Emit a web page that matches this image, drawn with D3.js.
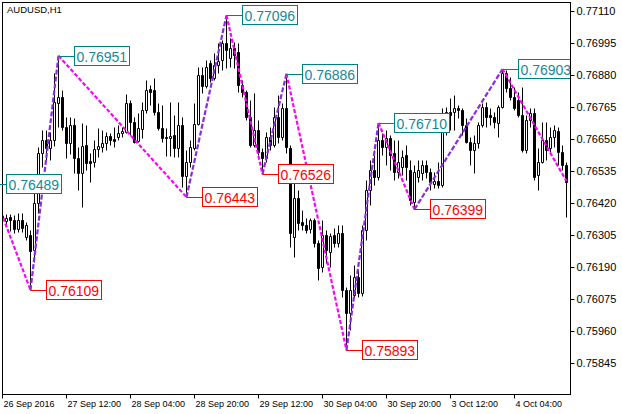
<!DOCTYPE html>
<html>
<head>
<meta charset="utf-8">
<script src="https://cdn.jsdelivr.net/npm/d3@7"></script>
<style>
  body { margin: 0; background: #fff; }
  svg { display: block; font-family: "Liberation Sans", Arial, sans-serif; }
</style>
</head>
<body>
<script>
const chartTitle = "AUDUSD,H1";

// H1 bars, 26 Sep 2016 20:00 .. 4 Oct 2016 17:00
const opens = [
  0.76375, 0.76357, 0.76371, 0.76360, 0.76328, 0.76360, 0.76299, 0.76306, 0.76253, 0.76421,
  0.76601, 0.76648, 0.76619, 0.76648, 0.76781, 0.76802, 0.76695, 0.76637, 0.76702, 0.76583,
  0.76529, 0.76630, 0.76572, 0.76569, 0.76616, 0.76623, 0.76637, 0.76662, 0.76651, 0.76659,
  0.76673, 0.76677, 0.76781, 0.76713, 0.76644, 0.76687, 0.76756, 0.76831, 0.76828, 0.76748,
  0.76691, 0.76659, 0.76655, 0.76666, 0.76619, 0.76702, 0.76518, 0.76569, 0.76619, 0.76705,
  0.76881, 0.76842, 0.76925, 0.76871, 0.76917, 0.76935, 0.76996, 0.76943, 0.76978, 0.76964,
  0.76846, 0.76820, 0.76731, 0.76630, 0.76684, 0.76605, 0.76583, 0.76659, 0.76630, 0.76731,
  0.76659, 0.76763, 0.76619, 0.76299, 0.76439, 0.76353, 0.76342, 0.76328, 0.76360, 0.76278,
  0.76191, 0.76306, 0.76246, 0.76306, 0.76278, 0.76314, 0.76109, 0.76026, 0.76091, 0.76155,
  0.76098, 0.76324, 0.76468, 0.76540, 0.76515, 0.76648, 0.76623, 0.76655, 0.76601, 0.76533,
  0.76551, 0.76594, 0.76540, 0.76425, 0.76515, 0.76529, 0.76558, 0.76533, 0.76490, 0.76500,
  0.76486, 0.76684, 0.76748, 0.76748, 0.76763, 0.76756, 0.76702, 0.76641, 0.76612, 0.76637,
  0.76702, 0.76766, 0.76738, 0.76731, 0.76709, 0.76766, 0.76889, 0.76835, 0.76802, 0.76792,
  0.76738, 0.76612, 0.76720, 0.76745, 0.76522, 0.76569, 0.76648, 0.76619, 0.76659, 0.76680,
  0.76605, 0.76558
];
const highs = [
  0.76386, 0.76382, 0.76382, 0.76378, 0.76386, 0.76386, 0.76353, 0.76324, 0.76457, 0.76623,
  0.76684, 0.76684, 0.76677, 0.76889, 0.76951, 0.76828, 0.76731, 0.76731, 0.76727, 0.76623,
  0.76709, 0.76702, 0.76601, 0.76648, 0.76691, 0.76684, 0.76677, 0.76673, 0.76695, 0.76702,
  0.76695, 0.76813, 0.76792, 0.76731, 0.76745, 0.76784, 0.76863, 0.76846, 0.76871, 0.76781,
  0.76774, 0.76691, 0.76784, 0.76738, 0.76784, 0.76731, 0.76612, 0.76648, 0.76781, 0.76910,
  0.76910, 0.76935, 0.76935, 0.76961, 0.76996, 0.77007, 0.77096, 0.77014, 0.77000, 0.76996,
  0.76863, 0.76828, 0.76792, 0.76817, 0.76720, 0.76619, 0.76677, 0.76695, 0.76766, 0.76810,
  0.76781, 0.76886, 0.76630, 0.76493, 0.76468, 0.76396, 0.76368, 0.76368, 0.76368, 0.76288,
  0.76360, 0.76324, 0.76314, 0.76332, 0.76342, 0.76342, 0.76120, 0.76163, 0.76199, 0.76181,
  0.76342, 0.76504, 0.76576, 0.76612, 0.76710, 0.76673, 0.76684, 0.76666, 0.76648, 0.76648,
  0.76612, 0.76630, 0.76576, 0.76558, 0.76576, 0.76576, 0.76576, 0.76547, 0.76533, 0.76569,
  0.76763, 0.76766, 0.76799, 0.76810, 0.76774, 0.76763, 0.76727, 0.76659, 0.76666, 0.76713,
  0.76781, 0.76784, 0.76763, 0.76748, 0.76774, 0.76903, 0.76899, 0.76874, 0.76838, 0.76820,
  0.76838, 0.76738, 0.76763, 0.76763, 0.76619, 0.76713, 0.76713, 0.76695, 0.76702, 0.76695,
  0.76630, 0.76569
];
const lows = [
  0.76353, 0.76342, 0.76321, 0.76314, 0.76317, 0.76317, 0.76288, 0.76109, 0.76209, 0.76386,
  0.76551, 0.76576, 0.76576, 0.76626, 0.76695, 0.76684, 0.76583, 0.76598, 0.76529, 0.76468,
  0.76407, 0.76540, 0.76497, 0.76551, 0.76587, 0.76605, 0.76612, 0.76630, 0.76623, 0.76648,
  0.76659, 0.76673, 0.76666, 0.76637, 0.76641, 0.76655, 0.76745, 0.76774, 0.76738, 0.76684,
  0.76641, 0.76590, 0.76590, 0.76587, 0.76587, 0.76479, 0.76443, 0.76551, 0.76612, 0.76702,
  0.76817, 0.76835, 0.76856, 0.76863, 0.76889, 0.76899, 0.76907, 0.76910, 0.76907, 0.76820,
  0.76802, 0.76720, 0.76623, 0.76623, 0.76594, 0.76526, 0.76569, 0.76612, 0.76623, 0.76637,
  0.76648, 0.76601, 0.76263, 0.76227, 0.76324, 0.76324, 0.76314, 0.76314, 0.76263, 0.76145,
  0.76173, 0.76206, 0.76191, 0.76263, 0.76263, 0.76084, 0.75893, 0.75965, 0.76084, 0.76084,
  0.76087, 0.76288, 0.76414, 0.76486, 0.76504, 0.76594, 0.76558, 0.76540, 0.76504, 0.76511,
  0.76522, 0.76504, 0.76414, 0.76399, 0.76497, 0.76504, 0.76511, 0.76468, 0.76475, 0.76475,
  0.76479, 0.76666, 0.76684, 0.76684, 0.76727, 0.76666, 0.76637, 0.76558, 0.76529, 0.76619,
  0.76695, 0.76695, 0.76702, 0.76691, 0.76659, 0.76763, 0.76820, 0.76792, 0.76756, 0.76731,
  0.76605, 0.76601, 0.76695, 0.76504, 0.76468, 0.76565, 0.76576, 0.76605, 0.76623, 0.76558,
  0.76540, 0.76371
];
const closes = [
  0.76368, 0.76368, 0.76360, 0.76328, 0.76360, 0.76332, 0.76342, 0.76249, 0.76421, 0.76601,
  0.76648, 0.76619, 0.76648, 0.76784, 0.76802, 0.76695, 0.76637, 0.76702, 0.76583, 0.76529,
  0.76626, 0.76565, 0.76565, 0.76616, 0.76626, 0.76637, 0.76662, 0.76648, 0.76644, 0.76673,
  0.76680, 0.76781, 0.76713, 0.76641, 0.76691, 0.76756, 0.76828, 0.76820, 0.76748, 0.76691,
  0.76655, 0.76655, 0.76662, 0.76619, 0.76702, 0.76518, 0.76569, 0.76623, 0.76705, 0.76881,
  0.76842, 0.76910, 0.76871, 0.76917, 0.76932, 0.76996, 0.76971, 0.76978, 0.76953, 0.76846,
  0.76820, 0.76731, 0.76630, 0.76684, 0.76605, 0.76583, 0.76659, 0.76630, 0.76731, 0.76659,
  0.76763, 0.76623, 0.76314, 0.76439, 0.76350, 0.76342, 0.76324, 0.76360, 0.76278, 0.76188,
  0.76306, 0.76253, 0.76303, 0.76278, 0.76314, 0.76109, 0.76026, 0.76109, 0.76155, 0.76098,
  0.76324, 0.76468, 0.76540, 0.76515, 0.76648, 0.76623, 0.76655, 0.76594, 0.76533, 0.76569,
  0.76587, 0.76551, 0.76432, 0.76533, 0.76540, 0.76558, 0.76533, 0.76497, 0.76500, 0.76486,
  0.76684, 0.76748, 0.76738, 0.76763, 0.76756, 0.76702, 0.76641, 0.76612, 0.76637, 0.76702,
  0.76766, 0.76731, 0.76731, 0.76713, 0.76766, 0.76889, 0.76835, 0.76802, 0.76763, 0.76738,
  0.76612, 0.76720, 0.76745, 0.76515, 0.76569, 0.76648, 0.76612, 0.76659, 0.76684, 0.76605,
  0.76558, 0.76497
];

// zigzag turning points (bar index, price); first one lies just left of the window
const pivotBars = [-3, 7, 14, 46, 56, 65, 71, 86, 94, 103, 125, 141];
const pivotPrices = [0.76489, 0.76109, 0.76951, 0.76443, 0.77096, 0.76526, 0.76886, 0.75893, 0.76710, 0.76399, 0.76903, 0.76500];

const priceTicks = [0.77110, 0.76995, 0.76880, 0.76765, 0.76650, 0.76535, 0.76420, 0.76305, 0.76190, 0.76075, 0.75960, 0.75845];
const timeTickBars = [0, 16, 32, 48, 64, 80, 96, 112, 128];
const timeTickLabels = ["26 Sep 2016", "27 Sep 12:00", "28 Sep 04:00", "28 Sep 20:00", "29 Sep 12:00",
  "30 Sep 04:00", "30 Sep 20:00", "3 Oct 12:00", "4 Oct 04:00"];

document.addEventListener("DOMContentLoaded", function() {
  const width = 622;
  const height = 414;
  const plotLeft = 2.5, plotTop = 2.5, plotRight = 570.5, plotBottom = 394.5;

  const x = d3.scaleLinear().domain([0, 141]).range([2.5, 566.5]);
  const y = d3.scaleLinear().domain([0.75845, 0.77110]).range([363.5, 11.5]);
  const sy = v => Math.round(y(v)) + 0.5;

  const svg = d3.select("body").append("svg")
    .attr("width", width)
    .attr("height", height);

  const defs = svg.append("defs");
  defs.append("clipPath").attr("id", "plot-clip")
    .append("rect").attr("x", 3).attr("y", 3).attr("width", 567).attr("height", 391);
  defs.append("clipPath").attr("id", "label-clip")
    .append("rect").attr("x", 0).attr("y", 3).attr("width", 570).attr("height", 391);

  svg.append("rect").attr("width", width).attr("height", height).attr("fill", "#fff");

  // frame
  svg.append("rect")
    .attr("x", plotLeft).attr("y", plotTop)
    .attr("width", plotRight - plotLeft).attr("height", plotBottom - plotTop)
    .attr("fill", "none").attr("stroke", "#000");

  svg.append("text")
    .attr("x", 7).attr("y", 13)
    .style("font-size", "9.5px")
    .attr("fill", "#000")
    .text(chartTitle);

  // candles
  const bars = d3.range(opens.length).map(i => ({ i: i, o: opens[i], h: highs[i], l: lows[i], c: closes[i] }));
  const candles = svg.append("g").attr("clip-path", "url(#plot-clip)");

  candles.selectAll("line.wick")
    .data(bars)
    .join("line")
    .attr("class", "wick")
    .attr("x1", d => x(d.i)).attr("x2", d => x(d.i))
    .attr("y1", d => sy(d.h)).attr("y2", d => sy(d.l))
    .attr("stroke", "#000");

  candles.selectAll("path.body")
    .data(bars)
    .join("path")
    .attr("class", "body")
    .attr("d", d => {
      const y0 = sy(Math.max(d.o, d.c)), y1 = sy(Math.min(d.o, d.c));
      const x0 = x(d.i) - 1, x1 = x(d.i) + 1;
      return `M${x0},${y0}H${x1}V${y1}H${x0}Z`;
    })
    .attr("fill", d => d.c >= d.o ? "#fff" : "#000")
    .attr("stroke", "#000");

  // zigzag
  const pivots = pivotBars.map((b, k) => ({ b: b, p: pivotPrices[k] }));
  const legs = d3.pairs(pivots);
  svg.append("g").attr("clip-path", "url(#plot-clip)")
    .selectAll("line")
    .data(legs)
    .join("line")
    .attr("x1", d => x(d[0].b)).attr("y1", d => y(d[0].p))
    .attr("x2", d => x(d[1].b)).attr("y2", d => y(d[1].p))
    .attr("stroke", d => d[1].p < d[0].p ? "#ff00ff" : "#8a2be2")
    .attr("stroke-width", 2.2)
    .attr("stroke-dasharray", d => d[1].p < d[0].p ? "4,2" : "5,2");

  // price labels at turning points
  const labels = svg.append("g").attr("clip-path", "url(#label-clip)");
  pivots.slice(0, -1).forEach(function(d, k) {
    const isHigh = d.p > pivots[k + 1].p;
    const border = isHigh ? "#008080" : "#ff0000";
    const ink = isHigh ? "#12899b" : "#ff0000";
    const px = x(d.b), py = sy(d.p);
    const bx = px + 16, by = py - 10;
    const g = labels.append("g");
    g.append("line")
      .attr("x1", px).attr("x2", bx).attr("y1", py).attr("y2", py)
      .attr("stroke", border);
    const box = g.append("rect");
    const t = g.append("text")
      .attr("x", bx + 2).attr("y", py + 5)
      .style("font-size", "14px")
      .attr("fill", ink)
      .text(d3.format(".5f")(d.p));
    const w = Math.round(t.node().getComputedTextLength()) + 4;
    box.attr("x", bx).attr("y", by).attr("width", w).attr("height", 19)
      .attr("fill", "#fff").attr("stroke", border);
  });

  // time axis
  const xAxis = d3.axisBottom(x)
    .tickValues(timeTickBars)
    .tickFormat((d, i) => timeTickLabels[i])
    .tickSize(4)
    .offset(0);
  svg.append("g")
    .attr("transform", `translate(0,${plotBottom})`)
    .call(xAxis)
    .call(g => g.select(".domain").remove())
    .call(g => g.selectAll(".tick line").attr("stroke", "#000"))
    .call(g => g.selectAll(".tick text")
      .attr("text-anchor", "start")
      .attr("x", 1).attr("y", 12.5).attr("dy", null)
      .attr("fill", "#000")
      .style("font-family", "'Liberation Sans', Arial, sans-serif")
      .style("font-size", "9px"));

  // price axis
  const yAxis = d3.axisRight(y)
    .tickValues(priceTicks)
    .tickFormat(d3.format(".5f"))
    .tickSize(4)
    .offset(0);
  svg.append("g")
    .attr("transform", `translate(${plotRight},0)`)
    .call(yAxis)
    .call(g => g.select(".domain").remove())
    .call(g => g.selectAll(".tick line").attr("stroke", "#000"))
    .call(g => g.selectAll(".tick text")
      .attr("x", 6)
      .attr("fill", "#000")
      .style("font-family", "'Liberation Sans', Arial, sans-serif")
      .style("font-size", "11px"));
});
</script>
</body>
</html>
